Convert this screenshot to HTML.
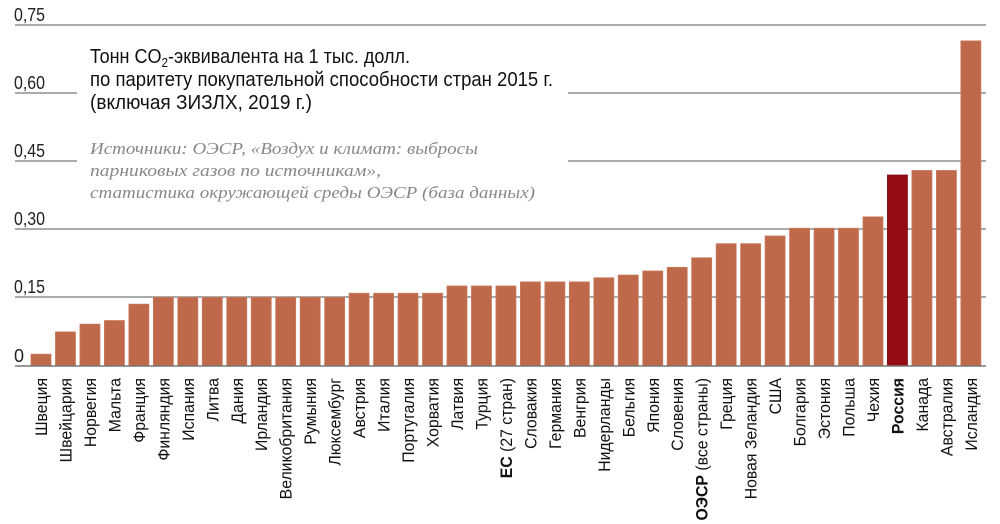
<!DOCTYPE html>
<html><head><meta charset="utf-8"><style>
html,body{margin:0;padding:0;background:#fff;}
svg{display:block;}
.lab{font-family:"Liberation Sans Narrow","Liberation Sans",sans-serif;font-size:17px;fill:#111;}
</style></head><body>
<svg width="1000" height="524" xmlns="http://www.w3.org/2000/svg">
<g stroke="#777" stroke-width="1.3">
<line x1="15" y1="25" x2="986" y2="25"/>
<line x1="15" y1="93" x2="77" y2="93"/><line x1="568" y1="93" x2="986" y2="93"/>
<line x1="15" y1="161" x2="77" y2="161"/><line x1="568" y1="161" x2="986" y2="161"/>
<line x1="15" y1="229" x2="986" y2="229"/>
<line x1="15" y1="297" x2="986" y2="297"/>
</g>
<g font-family="'Liberation Sans Narrow','Liberation Sans',sans-serif" font-size="18" fill="#222" lengthAdjust="spacingAndGlyphs">
<text x="14" y="21" textLength="31" lengthAdjust="spacingAndGlyphs">0,75</text><text x="14" y="89" textLength="31" lengthAdjust="spacingAndGlyphs">0,60</text><text x="14" y="157" textLength="31" lengthAdjust="spacingAndGlyphs">0,45</text>
<text x="14" y="225" textLength="31" lengthAdjust="spacingAndGlyphs">0,30</text><text x="14" y="293" textLength="31" lengthAdjust="spacingAndGlyphs">0,15</text><text x="14" y="362">0</text>
</g>
<g font-family="'Liberation Sans Narrow','Liberation Sans',sans-serif" font-size="20" fill="#111">
<text x="90" y="63" textLength="320" lengthAdjust="spacingAndGlyphs">Тонн CO<tspan font-size="13" dy="4">2</tspan><tspan dy="-4">-эквивалента на 1 тыс. долл.</tspan></text>
<text x="90" y="86" textLength="463" lengthAdjust="spacingAndGlyphs">по паритету покупательной способности стран 2015 г.</text>
<text x="90" y="109" textLength="222" lengthAdjust="spacingAndGlyphs">(включая ЗИЗЛХ, 2019 г.)</text>
</g>
<g font-family="'Liberation Serif',serif" font-style="italic" font-size="17" fill="#888">
<text x="90" y="154" textLength="388" lengthAdjust="spacingAndGlyphs">Источники: ОЭСР, «Воздух и климат: выбросы</text>
<text x="90" y="176" textLength="291" lengthAdjust="spacingAndGlyphs">парниковых газов по источникам»,</text>
<text x="90" y="198" textLength="445" lengthAdjust="spacingAndGlyphs">статистика окружающей среды ОЭСР (база данных)</text>
</g>
<g id="bars"></g>
<line x1="15" y1="366" x2="986" y2="366" stroke="#777" stroke-width="1.5"/>
<g id="labs"></g>
<script>
var d=[["Швеция",.026],["Швейцария",.075],["Норвегия",.092],["Мальта",.1],["Франция",.136],["Финляндия",.151],["Испания",.151],["Литва",.151],["Дания",.151],["Ирландия",.151],["Великобритания",.151],["Румыния",.151],["Люксембург",.151],["Австрия",.16],["Италия",.16],["Португалия",.16],["Хорватия",.16],["Латвия",.176],["Турция",.176],["EC|(27 стран)",.176],["Словакия",.185],["Германия",.185],["Венгрия",.185],["Нидерланды",.194],["Бельгия",.2],["Япония",.209],["Словения",.217],["ОЭСР|(все страны)",.238],["Греция",.269],["Новая Зеландия",.269],["США",.286],["Болгария",.303],["Эстония",.303],["Польша",.303],["Чехия",.328],["Россия",.42],["Канада",.43],["Австралия",.43],["Исландия",.715]];
var ns="http://www.w3.org/2000/svg",B=document.getElementById("bars"),L=document.getElementById("labs");
d.forEach(function(e,i){
 var x=31+i*24.47,h=e[1]*454.7,r=document.createElementNS(ns,"rect");
 var ru=e[0]=="Россия";
 r.setAttribute("x",x);r.setAttribute("y",366-h);r.setAttribute("width",20);r.setAttribute("height",h);
 r.setAttribute("fill",ru?"#940d15":"#bf694b");r.setAttribute("stroke",ru?"#7a0a10":"#c97a5e");r.setAttribute("stroke-width","0.8");
 B.appendChild(r);
 var cx=x+10+6,t=document.createElementNS(ns,"text");
 t.setAttribute("class","lab");t.setAttribute("text-anchor","end");
 t.setAttribute("transform","translate("+cx+",378) rotate(-90) scale(0.93,1)");
 if(e[0].indexOf("|")>0){var p=e[0].split("|");
  var a=document.createElementNS(ns,"tspan");a.setAttribute("font-weight","bold");a.textContent=p[0]+" ";t.appendChild(a);
  var b=document.createElementNS(ns,"tspan");b.textContent=p[1];t.appendChild(b);}
 else{t.textContent=e[0];if(ru){t.setAttribute("fill","#940d15");t.setAttribute("font-weight","bold");}}
 L.appendChild(t);
});
</script>
</svg>
</body></html>
